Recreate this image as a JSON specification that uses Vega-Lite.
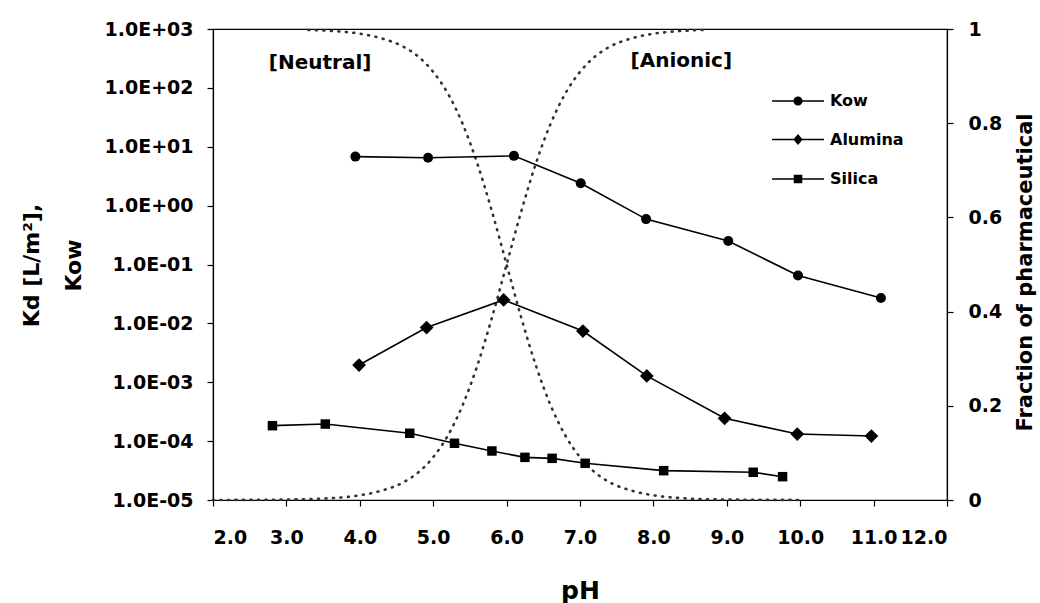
{
  "$schema": "https://vega.github.io/schema/vega-lite/v6.json",
  "width": 734,
  "height": 471,
  "autosize": {"type": "none"},
  "padding": {"left": 213, "top": 29, "right": 93, "bottom": 103},
  "background": "white",
  "config": {
    "view": {"stroke": "black", "strokeWidth": 1.2},
    "axis": {
      "grid": false,
      "domainColor": "black",
      "tickColor": "black",
      "labelColor": "black",
      "titleColor": "black",
      "labelFont": "DejaVu Sans",
      "titleFont": "DejaVu Sans",
      "labelFontWeight": "bold",
      "titleFontWeight": "bold",
      "labelFontSize": 19,
      "tickSize": 6,
      "domainWidth": 1.2,
      "tickWidth": 1.2
    },
    "text": {"font": "DejaVu Sans"}
  },
  "datasets": {
    "series": [
      {"series": "Kow", "pH": 3.94, "K": 6.8},
      {"series": "Kow", "pH": 4.93, "K": 6.5},
      {"series": "Kow", "pH": 6.10, "K": 7.0},
      {"series": "Kow", "pH": 7.01, "K": 2.4},
      {"series": "Kow", "pH": 7.90, "K": 0.59},
      {"series": "Kow", "pH": 9.02, "K": 0.25},
      {"series": "Kow", "pH": 9.97, "K": 0.065},
      {"series": "Kow", "pH": 11.10, "K": 0.027},
      {"series": "Alumina", "pH": 3.99, "K": 0.00196},
      {"series": "Alumina", "pH": 4.91, "K": 0.0085},
      {"series": "Alumina", "pH": 5.96, "K": 0.025},
      {"series": "Alumina", "pH": 7.04, "K": 0.0074},
      {"series": "Alumina", "pH": 7.91, "K": 0.00128},
      {"series": "Alumina", "pH": 8.97, "K": 0.000244},
      {"series": "Alumina", "pH": 9.96, "K": 0.000132},
      {"series": "Alumina", "pH": 10.97, "K": 0.000122},
      {"series": "Silica", "pH": 2.81, "K": 0.000183},
      {"series": "Silica", "pH": 3.53, "K": 0.000195},
      {"series": "Silica", "pH": 4.68, "K": 0.000136},
      {"series": "Silica", "pH": 5.29, "K": 0.000092},
      {"series": "Silica", "pH": 5.80, "K": 0.000068},
      {"series": "Silica", "pH": 6.25, "K": 0.000053},
      {"series": "Silica", "pH": 6.62, "K": 0.000051},
      {"series": "Silica", "pH": 7.07, "K": 0.000042},
      {"series": "Silica", "pH": 8.14, "K": 0.0000315},
      {"series": "Silica", "pH": 9.36, "K": 0.0000296},
      {"series": "Silica", "pH": 9.76, "K": 0.0000249}
    ],
    "frac": [
      {"form": "neutral", "pH": 3.3, "fraction": 0.998},
      {"form": "neutral", "pH": 3.6, "fraction": 0.996},
      {"form": "neutral", "pH": 4.0, "fraction": 0.990},
      {"form": "neutral", "pH": 4.3, "fraction": 0.980},
      {"form": "neutral", "pH": 4.6, "fraction": 0.962},
      {"form": "neutral", "pH": 4.8, "fraction": 0.941},
      {"form": "neutral", "pH": 5.0, "fraction": 0.909},
      {"form": "neutral", "pH": 5.2, "fraction": 0.863},
      {"form": "neutral", "pH": 5.4, "fraction": 0.799},
      {"form": "neutral", "pH": 5.6, "fraction": 0.715},
      {"form": "neutral", "pH": 5.8, "fraction": 0.613},
      {"form": "neutral", "pH": 6.0, "fraction": 0.5},
      {"form": "neutral", "pH": 6.2, "fraction": 0.387},
      {"form": "neutral", "pH": 6.4, "fraction": 0.285},
      {"form": "neutral", "pH": 6.6, "fraction": 0.201},
      {"form": "neutral", "pH": 6.8, "fraction": 0.137},
      {"form": "neutral", "pH": 7.0, "fraction": 0.091},
      {"form": "neutral", "pH": 7.2, "fraction": 0.059},
      {"form": "neutral", "pH": 7.4, "fraction": 0.038},
      {"form": "neutral", "pH": 7.7, "fraction": 0.020},
      {"form": "neutral", "pH": 8.0, "fraction": 0.010},
      {"form": "neutral", "pH": 8.5, "fraction": 0.003},
      {"form": "neutral", "pH": 9.0, "fraction": 0.001},
      {"form": "neutral", "pH": 10.0, "fraction": 0.0001},
      {"form": "anionic", "pH": 2.0, "fraction": 0.0001},
      {"form": "anionic", "pH": 2.5, "fraction": 0.0003},
      {"form": "anionic", "pH": 3.0, "fraction": 0.001},
      {"form": "anionic", "pH": 3.5, "fraction": 0.003},
      {"form": "anionic", "pH": 4.0, "fraction": 0.010},
      {"form": "anionic", "pH": 4.3, "fraction": 0.020},
      {"form": "anionic", "pH": 4.6, "fraction": 0.038},
      {"form": "anionic", "pH": 4.8, "fraction": 0.059},
      {"form": "anionic", "pH": 5.0, "fraction": 0.091},
      {"form": "anionic", "pH": 5.2, "fraction": 0.137},
      {"form": "anionic", "pH": 5.4, "fraction": 0.201},
      {"form": "anionic", "pH": 5.6, "fraction": 0.285},
      {"form": "anionic", "pH": 5.8, "fraction": 0.387},
      {"form": "anionic", "pH": 6.0, "fraction": 0.5},
      {"form": "anionic", "pH": 6.2, "fraction": 0.613},
      {"form": "anionic", "pH": 6.4, "fraction": 0.715},
      {"form": "anionic", "pH": 6.6, "fraction": 0.799},
      {"form": "anionic", "pH": 6.8, "fraction": 0.863},
      {"form": "anionic", "pH": 7.0, "fraction": 0.909},
      {"form": "anionic", "pH": 7.2, "fraction": 0.941},
      {"form": "anionic", "pH": 7.4, "fraction": 0.962},
      {"form": "anionic", "pH": 7.7, "fraction": 0.980},
      {"form": "anionic", "pH": 8.0, "fraction": 0.990},
      {"form": "anionic", "pH": 8.3, "fraction": 0.995},
      {"form": "anionic", "pH": 8.7, "fraction": 0.998}
    ],
    "notes": [
      {"label": "[Neutral]", "pH": 3.46, "K": 265},
      {"label": "[Anionic]", "pH": 8.38, "K": 290}
    ]
  },
  "encoding": {
    "x": {
      "field": "pH",
      "type": "quantitative",
      "scale": {"domain": [2, 12], "nice": false, "zero": false},
      "axis": {
        "values": [2, 3, 4, 5, 6, 7, 8, 9, 10, 11, 12],
        "format": ".1f",
        "labelPadding": 22,
        "title": "pH",
        "titleFontSize": 25,
        "titleBaseline": "alphabetic",
        "titleY": 98
      }
    }
  },
  "layer": [
    {
      "data": {"name": "frac"},
      "mark": {"type": "line", "interpolate": "monotone", "strokeDash": [1, 6.5], "strokeWidth": 2.6, "strokeCap": "round", "color": "#333333"},
      "encoding": {
        "y": {
          "field": "fraction",
          "type": "quantitative",
          "scale": {"domain": [0, 1], "nice": false},
          "axis": {
            "orient": "right",
            "values": [0, 0.2, 0.4, 0.6, 0.8, 1],
            "format": "~g",
            "labelPadding": 15,
            "title": "Fraction of pharmaceutical",
            "titleFontSize": 21,
            "titleAngle": 270,
            "titleAlign": "center",
            "titleBaseline": "alphabetic",
            "titleX": 84,
            "titleY": 243
          }
        },
        "detail": {"field": "form"}
      }
    },
    {
      "encoding": {
        "y": {
          "field": "K",
          "type": "quantitative",
          "scale": {"type": "log", "domain": [0.00001, 1000], "nice": false},
          "axis": {
            "values": [0.00001, 0.0001, 0.001, 0.01, 0.1, 1, 10, 100, 1000],
            "labelExpr": "'1.0E' + (datum.value >= 0.999 ? '+' : '-') + '0' + abs(round(log(datum.value) / LN10))",
            "labelPadding": 14,
            "title": ["Kd [L/m²],", "Kow"],
            "titleFontSize": 22,
            "titleAngle": 270,
            "titleAlign": "center",
            "titleBaseline": "alphabetic",
            "titleLineHeight": 42,
            "titleX": -175,
            "titleY": 236
          }
        }
      },
      "layer": [
        {
          "data": {"name": "series"},
          "mark": {"type": "line", "color": "black", "strokeWidth": 1.6},
          "encoding": {"detail": {"field": "series"}}
        },
        {
          "data": {"name": "series"},
          "mark": {"type": "point", "filled": true, "color": "black", "opacity": 1},
          "encoding": {
            "shape": {
              "field": "series",
              "scale": {"domain": ["Kow", "Alumina", "Silica"], "range": ["circle", "diamond", "square"]},
              "legend": null
            },
            "size": {
              "field": "series",
              "type": "nominal",
              "scale": {"type": "ordinal", "domain": ["Kow", "Alumina", "Silica"], "range": [100, 190, 90]},
              "legend": null
            }
          }
        },
        {
          "data": {"name": "series"},
          "transform": [{"filter": "datum.pH > 100"}],
          "mark": {"type": "point", "filled": true, "fill": "black", "opacity": 1},
          "encoding": {
            "shape": {
              "field": "series",
              "scale": {
                "domain": ["Kow", "Alumina", "Silica"],
                "range": [
                  "M-2,-0.06H-0.3V0.06H-2ZM0.3,-0.06H2V0.06H0.3ZM-0.35,0A0.35,0.35,0,1,1,0.35,0A0.35,0.35,0,1,1,-0.35,0Z",
                  "M-2,-0.06H-0.3V0.06H-2ZM0.3,-0.06H2V0.06H0.3ZM0,-0.42L0.36,0L0,0.42L-0.36,0Z",
                  "M-2,-0.06H-0.3V0.06H-2ZM0.3,-0.06H2V0.06H0.3ZM-0.33,-0.33H0.33V0.33H-0.33Z"
                ]
              },
              "legend": {
                "orient": "none",
                "legendX": 571,
                "legendY": 58,
                "title": null,
                "labelFont": "DejaVu Sans",
                "labelFontWeight": "bold",
                "labelFontSize": 16,
                "labelColor": "black",
                "symbolSize": 676,
                "symbolFillColor": "black",
                "rowPadding": 16.5,
                "labelOffset": 18
              }
            }
          }
        },
        {
          "data": {"name": "notes"},
          "mark": {"type": "text", "fontWeight": "bold", "fontSize": 20, "color": "black", "baseline": "middle", "align": "center"},
          "encoding": {"text": {"field": "label"}}
        }
      ],
      "resolve": {"scale": {"shape": "independent", "size": "independent"}}
    }
  ],
  "resolve": {"scale": {"y": "independent"}}
}
